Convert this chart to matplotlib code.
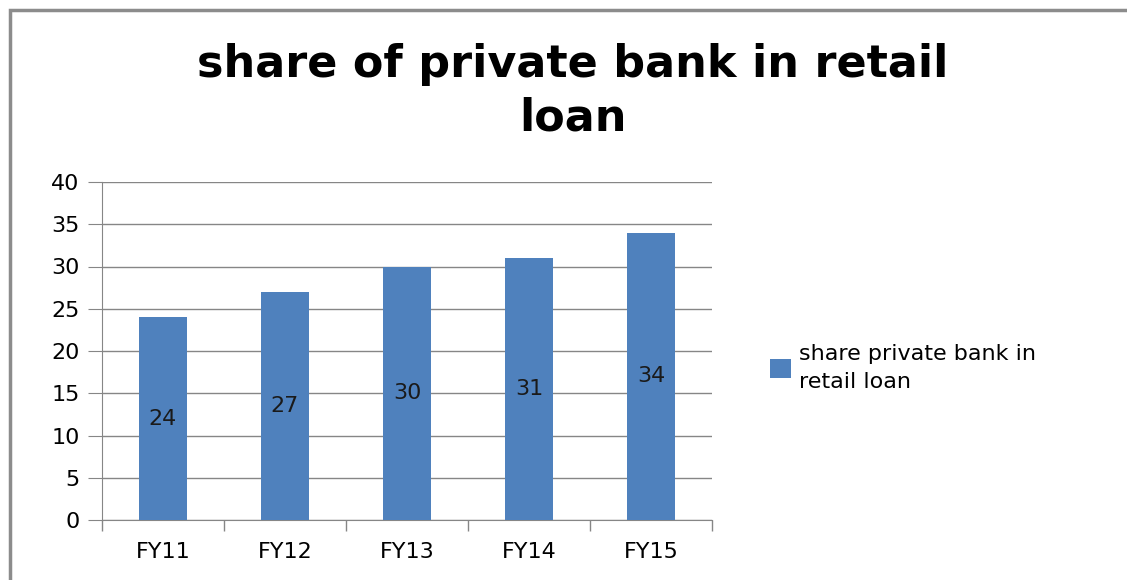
import matplotlib.pyplot as plt
from matplotlib.patches import Rectangle

# data
years = ['FY11', 'FY12', 'FY13', 'FY14', 'FY15']
share = [24, 27, 30, 31, 34]

bar_color = '#4F81BD'
grid_color = '#868686'

fig = plt.figure(figsize=(11.27, 5.80), dpi=100)
ax = fig.add_axes([102 / 1127, 60 / 580, 610 / 1127, 338 / 580])

x = range(len(years))
bars = ax.bar(x, share, width=0.4, color=bar_color, label='share private bank in\nretail loan', zorder=3)

# value labels in the middle of each bar
for rect, v in zip(bars, share):
    ax.text(rect.get_x() + rect.get_width() / 2, v / 2, str(v),
            ha='center', va='center', fontsize=16, color='#1a1a1a', zorder=4)

ax.set_xlim(-0.5, len(years) - 0.5)
ax.set_ylim(0, 40)
ax.set_yticks(range(0, 41, 5))
ax.set_xticks(x)
ax.set_xticklabels(years)
ax.set_xticks([i + 0.5 for i in range(-1, len(years))], minor=True)
ax.tick_params(axis='x', which='major', length=0, pad=16, labelsize=16)
ax.tick_params(axis='x', which='minor', length=8, color=grid_color, width=1)
ax.tick_params(axis='y', length=10, color=grid_color, labelsize=16, pad=6)
ax.grid(axis='y', color=grid_color, linewidth=1, zorder=0)

for side in ['top', 'right']:
    ax.spines[side].set_visible(False)
ax.spines['left'].set_color(grid_color)
ax.spines['bottom'].set_color(grid_color)

fig.text(573 / 1127, 1 - 91 / 580, 'share of private bank in retail\nloan',
         ha='center', va='center', fontsize=32, fontweight='bold', linespacing=1.3)

leg = fig.legend(loc='center left', bbox_to_anchor=(750 / 1127, 1 - 368 / 580),
                 frameon=False, fontsize=16, handlelength=0.95, handleheight=0.95,
                 handletextpad=0.35)
for t in leg.get_texts():
    t.set_linespacing(1.45)

# outer chart border
fig.patches.append(Rectangle((10 / 1127, -0.02), 1.05, 1 - 10 / 580 + 0.02,
                             transform=fig.transFigure, fill=False,
                             edgecolor='#8c8c8c', linewidth=2.5))

fig.savefig('out.png', dpi=100)
